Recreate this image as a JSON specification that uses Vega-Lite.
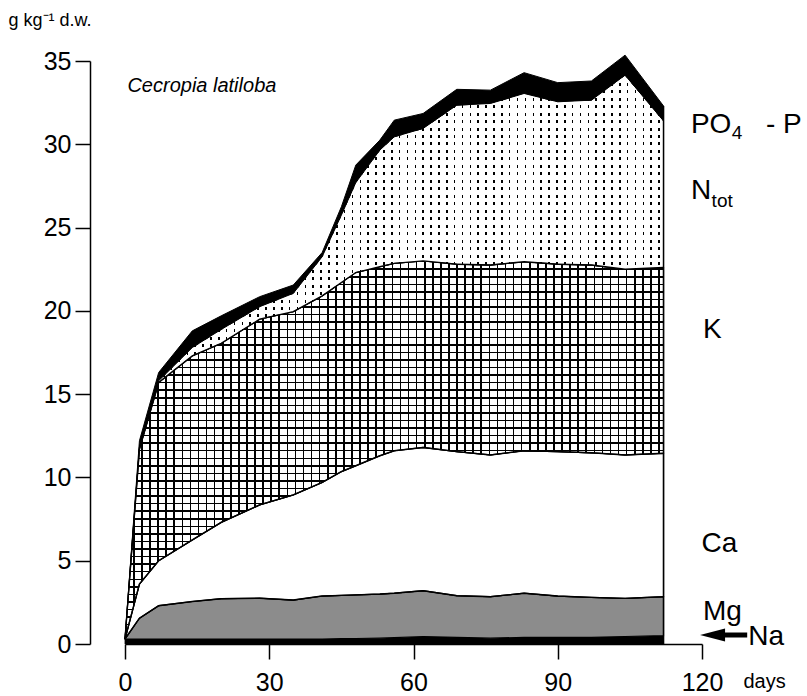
{
"$schema":"https://vega.github.io/schema/vega-lite/v6.json",
"width":577,"height":583,
"autosize":{"type":"none"},
"padding":{"left":125,"top":61,"right":105,"bottom":52},
"background":"white",
"config":{"view":{"stroke":null},
"axis":{"domainColor":"#000","tickColor":"#000","labelColor":"#000","titleColor":"#000","labelFont":"Liberation Sans","titleFont":"Liberation Sans","labelFontSize":25,"grid":false,"tickSize":15,"domainWidth":1.5,"tickWidth":1.5,"titleFontWeight":"normal","labelFlush":false,"labelOverlap":false},
"text":{"font":"Liberation Sans","color":"#000"}},
"params":[
{"name":"vs","value":{"gradient":"linear","x1":0,"y1":0,"x2":1,"y2":0,"stops":[
{"offset":0,"color":"#000"},{"offset":0.003,"color":"#000"},{"offset":0.003,"color":"#fff"},{"offset":0.015,"color":"#fff"},
{"offset":0.015,"color":"#000"},{"offset":0.018,"color":"#000"},{"offset":0.018,"color":"#fff"},{"offset":0.03,"color":"#fff"},
{"offset":0.03,"color":"#000"},{"offset":0.033,"color":"#000"},{"offset":0.033,"color":"#fff"},{"offset":0.045,"color":"#fff"},
{"offset":0.045,"color":"#000"},{"offset":0.048,"color":"#000"},{"offset":0.048,"color":"#fff"},{"offset":0.06,"color":"#fff"},
{"offset":0.06,"color":"#000"},{"offset":0.063,"color":"#000"},{"offset":0.063,"color":"#fff"},{"offset":0.075,"color":"#fff"},
{"offset":0.075,"color":"#000"},{"offset":0.078,"color":"#000"},{"offset":0.078,"color":"#fff"},{"offset":0.09,"color":"#fff"},
{"offset":0.09,"color":"#000"},{"offset":0.093,"color":"#000"},{"offset":0.093,"color":"#fff"},{"offset":0.105,"color":"#fff"},
{"offset":0.105,"color":"#000"},{"offset":0.108,"color":"#000"},{"offset":0.108,"color":"#fff"},{"offset":0.12,"color":"#fff"},
{"offset":0.12,"color":"#000"},{"offset":0.123,"color":"#000"},{"offset":0.123,"color":"#fff"},{"offset":0.135,"color":"#fff"},
{"offset":0.135,"color":"#000"},{"offset":0.138,"color":"#000"},{"offset":0.138,"color":"#fff"},{"offset":0.15,"color":"#fff"},
{"offset":0.15,"color":"#000"},{"offset":0.153,"color":"#000"},{"offset":0.153,"color":"#fff"},{"offset":0.165,"color":"#fff"},
{"offset":0.165,"color":"#000"},{"offset":0.168,"color":"#000"},{"offset":0.168,"color":"#fff"},{"offset":0.18,"color":"#fff"},
{"offset":0.18,"color":"#000"},{"offset":0.183,"color":"#000"},{"offset":0.183,"color":"#fff"},{"offset":0.195,"color":"#fff"},
{"offset":0.195,"color":"#000"},{"offset":0.198,"color":"#000"},{"offset":0.198,"color":"#fff"},{"offset":0.21,"color":"#fff"},
{"offset":0.21,"color":"#000"},{"offset":0.213,"color":"#000"},{"offset":0.213,"color":"#fff"},{"offset":0.225,"color":"#fff"},
{"offset":0.225,"color":"#000"},{"offset":0.228,"color":"#000"},{"offset":0.228,"color":"#fff"},{"offset":0.24,"color":"#fff"},
{"offset":0.24,"color":"#000"},{"offset":0.243,"color":"#000"},{"offset":0.243,"color":"#fff"},{"offset":0.255,"color":"#fff"},
{"offset":0.255,"color":"#000"},{"offset":0.258,"color":"#000"},{"offset":0.258,"color":"#fff"},{"offset":0.27,"color":"#fff"},
{"offset":0.27,"color":"#000"},{"offset":0.273,"color":"#000"},{"offset":0.273,"color":"#fff"},{"offset":0.285,"color":"#fff"},
{"offset":0.285,"color":"#000"},{"offset":0.288,"color":"#000"},{"offset":0.288,"color":"#fff"},{"offset":0.3,"color":"#fff"},
{"offset":0.3,"color":"#000"},{"offset":0.303,"color":"#000"},{"offset":0.303,"color":"#fff"},{"offset":0.315,"color":"#fff"},
{"offset":0.315,"color":"#000"},{"offset":0.318,"color":"#000"},{"offset":0.318,"color":"#fff"},{"offset":0.33,"color":"#fff"},
{"offset":0.33,"color":"#000"},{"offset":0.333,"color":"#000"},{"offset":0.333,"color":"#fff"},{"offset":0.345,"color":"#fff"},
{"offset":0.345,"color":"#000"},{"offset":0.348,"color":"#000"},{"offset":0.348,"color":"#fff"},{"offset":0.36,"color":"#fff"},
{"offset":0.36,"color":"#000"},{"offset":0.363,"color":"#000"},{"offset":0.363,"color":"#fff"},{"offset":0.375,"color":"#fff"},
{"offset":0.375,"color":"#000"},{"offset":0.378,"color":"#000"},{"offset":0.378,"color":"#fff"},{"offset":0.39,"color":"#fff"},
{"offset":0.39,"color":"#000"},{"offset":0.393,"color":"#000"},{"offset":0.393,"color":"#fff"},{"offset":0.405,"color":"#fff"},
{"offset":0.405,"color":"#000"},{"offset":0.408,"color":"#000"},{"offset":0.408,"color":"#fff"},{"offset":0.42,"color":"#fff"},
{"offset":0.42,"color":"#000"},{"offset":0.423,"color":"#000"},{"offset":0.423,"color":"#fff"},{"offset":0.435,"color":"#fff"},
{"offset":0.435,"color":"#000"},{"offset":0.438,"color":"#000"},{"offset":0.438,"color":"#fff"},{"offset":0.45,"color":"#fff"},
{"offset":0.45,"color":"#000"},{"offset":0.453,"color":"#000"},{"offset":0.453,"color":"#fff"},{"offset":0.465,"color":"#fff"},
{"offset":0.465,"color":"#000"},{"offset":0.468,"color":"#000"},{"offset":0.468,"color":"#fff"},{"offset":0.48,"color":"#fff"},
{"offset":0.48,"color":"#000"},{"offset":0.483,"color":"#000"},{"offset":0.483,"color":"#fff"},{"offset":0.495,"color":"#fff"},
{"offset":0.495,"color":"#000"},{"offset":0.498,"color":"#000"},{"offset":0.498,"color":"#fff"},{"offset":0.51,"color":"#fff"},
{"offset":0.51,"color":"#000"},{"offset":0.513,"color":"#000"},{"offset":0.513,"color":"#fff"},{"offset":0.525,"color":"#fff"},
{"offset":0.525,"color":"#000"},{"offset":0.528,"color":"#000"},{"offset":0.528,"color":"#fff"},{"offset":0.54,"color":"#fff"},
{"offset":0.54,"color":"#000"},{"offset":0.543,"color":"#000"},{"offset":0.543,"color":"#fff"},{"offset":0.555,"color":"#fff"},
{"offset":0.555,"color":"#000"},{"offset":0.558,"color":"#000"},{"offset":0.558,"color":"#fff"},{"offset":0.57,"color":"#fff"},
{"offset":0.57,"color":"#000"},{"offset":0.573,"color":"#000"},{"offset":0.573,"color":"#fff"},{"offset":0.585,"color":"#fff"},
{"offset":0.585,"color":"#000"},{"offset":0.588,"color":"#000"},{"offset":0.588,"color":"#fff"},{"offset":0.6,"color":"#fff"},
{"offset":0.6,"color":"#000"},{"offset":0.603,"color":"#000"},{"offset":0.603,"color":"#fff"},{"offset":0.615,"color":"#fff"},
{"offset":0.615,"color":"#000"},{"offset":0.618,"color":"#000"},{"offset":0.618,"color":"#fff"},{"offset":0.63,"color":"#fff"},
{"offset":0.63,"color":"#000"},{"offset":0.633,"color":"#000"},{"offset":0.633,"color":"#fff"},{"offset":0.645,"color":"#fff"},
{"offset":0.645,"color":"#000"},{"offset":0.648,"color":"#000"},{"offset":0.648,"color":"#fff"},{"offset":0.66,"color":"#fff"},
{"offset":0.66,"color":"#000"},{"offset":0.663,"color":"#000"},{"offset":0.663,"color":"#fff"},{"offset":0.675,"color":"#fff"},
{"offset":0.675,"color":"#000"},{"offset":0.678,"color":"#000"},{"offset":0.678,"color":"#fff"},{"offset":0.69,"color":"#fff"},
{"offset":0.69,"color":"#000"},{"offset":0.693,"color":"#000"},{"offset":0.693,"color":"#fff"},{"offset":0.705,"color":"#fff"},
{"offset":0.705,"color":"#000"},{"offset":0.708,"color":"#000"},{"offset":0.708,"color":"#fff"},{"offset":0.72,"color":"#fff"},
{"offset":0.72,"color":"#000"},{"offset":0.723,"color":"#000"},{"offset":0.723,"color":"#fff"},{"offset":0.735,"color":"#fff"},
{"offset":0.735,"color":"#000"},{"offset":0.738,"color":"#000"},{"offset":0.738,"color":"#fff"},{"offset":0.75,"color":"#fff"},
{"offset":0.75,"color":"#000"},{"offset":0.753,"color":"#000"},{"offset":0.753,"color":"#fff"},{"offset":0.765,"color":"#fff"},
{"offset":0.765,"color":"#000"},{"offset":0.768,"color":"#000"},{"offset":0.768,"color":"#fff"},{"offset":0.78,"color":"#fff"},
{"offset":0.78,"color":"#000"},{"offset":0.783,"color":"#000"},{"offset":0.783,"color":"#fff"},{"offset":0.795,"color":"#fff"},
{"offset":0.795,"color":"#000"},{"offset":0.798,"color":"#000"},{"offset":0.798,"color":"#fff"},{"offset":0.81,"color":"#fff"},
{"offset":0.81,"color":"#000"},{"offset":0.813,"color":"#000"},{"offset":0.813,"color":"#fff"},{"offset":0.825,"color":"#fff"},
{"offset":0.825,"color":"#000"},{"offset":0.828,"color":"#000"},{"offset":0.828,"color":"#fff"},{"offset":0.84,"color":"#fff"},
{"offset":0.84,"color":"#000"},{"offset":0.843,"color":"#000"},{"offset":0.843,"color":"#fff"},{"offset":0.855,"color":"#fff"},
{"offset":0.855,"color":"#000"},{"offset":0.858,"color":"#000"},{"offset":0.858,"color":"#fff"},{"offset":0.87,"color":"#fff"},
{"offset":0.87,"color":"#000"},{"offset":0.873,"color":"#000"},{"offset":0.873,"color":"#fff"},{"offset":0.885,"color":"#fff"},
{"offset":0.885,"color":"#000"},{"offset":0.888,"color":"#000"},{"offset":0.888,"color":"#fff"},{"offset":0.9,"color":"#fff"},
{"offset":0.9,"color":"#000"},{"offset":0.903,"color":"#000"},{"offset":0.903,"color":"#fff"},{"offset":0.915,"color":"#fff"},
{"offset":0.915,"color":"#000"},{"offset":0.918,"color":"#000"},{"offset":0.918,"color":"#fff"},{"offset":0.93,"color":"#fff"},
{"offset":0.93,"color":"#000"},{"offset":0.933,"color":"#000"},{"offset":0.933,"color":"#fff"},{"offset":0.945,"color":"#fff"},
{"offset":0.945,"color":"#000"},{"offset":0.948,"color":"#000"},{"offset":0.948,"color":"#fff"},{"offset":0.96,"color":"#fff"},
{"offset":0.96,"color":"#000"},{"offset":0.963,"color":"#000"},{"offset":0.963,"color":"#fff"},{"offset":0.975,"color":"#fff"},
{"offset":0.975,"color":"#000"},{"offset":0.978,"color":"#000"},{"offset":0.978,"color":"#fff"},{"offset":0.99,"color":"#fff"},
{"offset":0.99,"color":"#000"},{"offset":0.993,"color":"#000"},{"offset":0.993,"color":"#fff"},{"offset":1,"color":"#fff"}]}},
{"name":"hs","value":{"gradient":"linear","x1":0,"y1":0,"x2":0,"y2":1,"stops":[
{"offset":0,"color":"#000"},{"offset":0.004,"color":"#000"},{"offset":0.004,"color":"transparent"},{"offset":0.02,"color":"transparent"},
{"offset":0.02,"color":"#000"},{"offset":0.024,"color":"#000"},{"offset":0.024,"color":"transparent"},{"offset":0.04,"color":"transparent"},
{"offset":0.04,"color":"#000"},{"offset":0.044,"color":"#000"},{"offset":0.044,"color":"transparent"},{"offset":0.06,"color":"transparent"},
{"offset":0.06,"color":"#000"},{"offset":0.064,"color":"#000"},{"offset":0.064,"color":"transparent"},{"offset":0.08,"color":"transparent"},
{"offset":0.08,"color":"#000"},{"offset":0.084,"color":"#000"},{"offset":0.084,"color":"transparent"},{"offset":0.1,"color":"transparent"},
{"offset":0.1,"color":"#000"},{"offset":0.104,"color":"#000"},{"offset":0.104,"color":"transparent"},{"offset":0.12,"color":"transparent"},
{"offset":0.12,"color":"#000"},{"offset":0.124,"color":"#000"},{"offset":0.124,"color":"transparent"},{"offset":0.14,"color":"transparent"},
{"offset":0.14,"color":"#000"},{"offset":0.144,"color":"#000"},{"offset":0.144,"color":"transparent"},{"offset":0.16,"color":"transparent"},
{"offset":0.16,"color":"#000"},{"offset":0.164,"color":"#000"},{"offset":0.164,"color":"transparent"},{"offset":0.18,"color":"transparent"},
{"offset":0.18,"color":"#000"},{"offset":0.184,"color":"#000"},{"offset":0.184,"color":"transparent"},{"offset":0.2,"color":"transparent"},
{"offset":0.2,"color":"#000"},{"offset":0.204,"color":"#000"},{"offset":0.204,"color":"transparent"},{"offset":0.22,"color":"transparent"},
{"offset":0.22,"color":"#000"},{"offset":0.224,"color":"#000"},{"offset":0.224,"color":"transparent"},{"offset":0.24,"color":"transparent"},
{"offset":0.24,"color":"#000"},{"offset":0.244,"color":"#000"},{"offset":0.244,"color":"transparent"},{"offset":0.26,"color":"transparent"},
{"offset":0.26,"color":"#000"},{"offset":0.264,"color":"#000"},{"offset":0.264,"color":"transparent"},{"offset":0.28,"color":"transparent"},
{"offset":0.28,"color":"#000"},{"offset":0.284,"color":"#000"},{"offset":0.284,"color":"transparent"},{"offset":0.3,"color":"transparent"},
{"offset":0.3,"color":"#000"},{"offset":0.304,"color":"#000"},{"offset":0.304,"color":"transparent"},{"offset":0.32,"color":"transparent"},
{"offset":0.32,"color":"#000"},{"offset":0.324,"color":"#000"},{"offset":0.324,"color":"transparent"},{"offset":0.34,"color":"transparent"},
{"offset":0.34,"color":"#000"},{"offset":0.344,"color":"#000"},{"offset":0.344,"color":"transparent"},{"offset":0.36,"color":"transparent"},
{"offset":0.36,"color":"#000"},{"offset":0.364,"color":"#000"},{"offset":0.364,"color":"transparent"},{"offset":0.38,"color":"transparent"},
{"offset":0.38,"color":"#000"},{"offset":0.384,"color":"#000"},{"offset":0.384,"color":"transparent"},{"offset":0.4,"color":"transparent"},
{"offset":0.4,"color":"#000"},{"offset":0.404,"color":"#000"},{"offset":0.404,"color":"transparent"},{"offset":0.42,"color":"transparent"},
{"offset":0.42,"color":"#000"},{"offset":0.424,"color":"#000"},{"offset":0.424,"color":"transparent"},{"offset":0.44,"color":"transparent"},
{"offset":0.44,"color":"#000"},{"offset":0.444,"color":"#000"},{"offset":0.444,"color":"transparent"},{"offset":0.46,"color":"transparent"},
{"offset":0.46,"color":"#000"},{"offset":0.464,"color":"#000"},{"offset":0.464,"color":"transparent"},{"offset":0.48,"color":"transparent"},
{"offset":0.48,"color":"#000"},{"offset":0.484,"color":"#000"},{"offset":0.484,"color":"transparent"},{"offset":0.5,"color":"transparent"},
{"offset":0.5,"color":"#000"},{"offset":0.504,"color":"#000"},{"offset":0.504,"color":"transparent"},{"offset":0.52,"color":"transparent"},
{"offset":0.52,"color":"#000"},{"offset":0.524,"color":"#000"},{"offset":0.524,"color":"transparent"},{"offset":0.54,"color":"transparent"},
{"offset":0.54,"color":"#000"},{"offset":0.544,"color":"#000"},{"offset":0.544,"color":"transparent"},{"offset":0.56,"color":"transparent"},
{"offset":0.56,"color":"#000"},{"offset":0.564,"color":"#000"},{"offset":0.564,"color":"transparent"},{"offset":0.58,"color":"transparent"},
{"offset":0.58,"color":"#000"},{"offset":0.584,"color":"#000"},{"offset":0.584,"color":"transparent"},{"offset":0.6,"color":"transparent"},
{"offset":0.6,"color":"#000"},{"offset":0.604,"color":"#000"},{"offset":0.604,"color":"transparent"},{"offset":0.62,"color":"transparent"},
{"offset":0.62,"color":"#000"},{"offset":0.624,"color":"#000"},{"offset":0.624,"color":"transparent"},{"offset":0.64,"color":"transparent"},
{"offset":0.64,"color":"#000"},{"offset":0.644,"color":"#000"},{"offset":0.644,"color":"transparent"},{"offset":0.66,"color":"transparent"},
{"offset":0.66,"color":"#000"},{"offset":0.664,"color":"#000"},{"offset":0.664,"color":"transparent"},{"offset":0.68,"color":"transparent"},
{"offset":0.68,"color":"#000"},{"offset":0.684,"color":"#000"},{"offset":0.684,"color":"transparent"},{"offset":0.7,"color":"transparent"},
{"offset":0.7,"color":"#000"},{"offset":0.704,"color":"#000"},{"offset":0.704,"color":"transparent"},{"offset":0.72,"color":"transparent"},
{"offset":0.72,"color":"#000"},{"offset":0.724,"color":"#000"},{"offset":0.724,"color":"transparent"},{"offset":0.74,"color":"transparent"},
{"offset":0.74,"color":"#000"},{"offset":0.744,"color":"#000"},{"offset":0.744,"color":"transparent"},{"offset":0.76,"color":"transparent"},
{"offset":0.76,"color":"#000"},{"offset":0.764,"color":"#000"},{"offset":0.764,"color":"transparent"},{"offset":0.78,"color":"transparent"},
{"offset":0.78,"color":"#000"},{"offset":0.784,"color":"#000"},{"offset":0.784,"color":"transparent"},{"offset":0.8,"color":"transparent"},
{"offset":0.8,"color":"#000"},{"offset":0.804,"color":"#000"},{"offset":0.804,"color":"transparent"},{"offset":0.82,"color":"transparent"},
{"offset":0.82,"color":"#000"},{"offset":0.824,"color":"#000"},{"offset":0.824,"color":"transparent"},{"offset":0.84,"color":"transparent"},
{"offset":0.84,"color":"#000"},{"offset":0.844,"color":"#000"},{"offset":0.844,"color":"transparent"},{"offset":0.86,"color":"transparent"},
{"offset":0.86,"color":"#000"},{"offset":0.864,"color":"#000"},{"offset":0.864,"color":"transparent"},{"offset":0.88,"color":"transparent"},
{"offset":0.88,"color":"#000"},{"offset":0.884,"color":"#000"},{"offset":0.884,"color":"transparent"},{"offset":0.9,"color":"transparent"},
{"offset":0.9,"color":"#000"},{"offset":0.904,"color":"#000"},{"offset":0.904,"color":"transparent"},{"offset":0.92,"color":"transparent"},
{"offset":0.92,"color":"#000"},{"offset":0.924,"color":"#000"},{"offset":0.924,"color":"transparent"},{"offset":0.94,"color":"transparent"},
{"offset":0.94,"color":"#000"},{"offset":0.944,"color":"#000"},{"offset":0.944,"color":"transparent"},{"offset":0.96,"color":"transparent"},
{"offset":0.96,"color":"#000"},{"offset":0.964,"color":"#000"},{"offset":0.964,"color":"transparent"},{"offset":0.98,"color":"transparent"},
{"offset":0.98,"color":"#000"},{"offset":0.984,"color":"#000"},{"offset":0.984,"color":"transparent"},{"offset":1,"color":"transparent"}]}},
{"name":"hm","value":{"gradient":"linear","x1":0,"y1":0,"x2":0,"y2":1,"stops":[
{"offset":0,"color":"transparent"},{"offset":0.008,"color":"transparent"},{"offset":0.008,"color":"#fff"},{"offset":0.02,"color":"#fff"},
{"offset":0.02,"color":"transparent"},{"offset":0.028,"color":"transparent"},{"offset":0.028,"color":"#fff"},{"offset":0.04,"color":"#fff"},
{"offset":0.04,"color":"transparent"},{"offset":0.048,"color":"transparent"},{"offset":0.048,"color":"#fff"},{"offset":0.06,"color":"#fff"},
{"offset":0.06,"color":"transparent"},{"offset":0.068,"color":"transparent"},{"offset":0.068,"color":"#fff"},{"offset":0.08,"color":"#fff"},
{"offset":0.08,"color":"transparent"},{"offset":0.088,"color":"transparent"},{"offset":0.088,"color":"#fff"},{"offset":0.1,"color":"#fff"},
{"offset":0.1,"color":"transparent"},{"offset":0.108,"color":"transparent"},{"offset":0.108,"color":"#fff"},{"offset":0.12,"color":"#fff"},
{"offset":0.12,"color":"transparent"},{"offset":0.128,"color":"transparent"},{"offset":0.128,"color":"#fff"},{"offset":0.14,"color":"#fff"},
{"offset":0.14,"color":"transparent"},{"offset":0.148,"color":"transparent"},{"offset":0.148,"color":"#fff"},{"offset":0.16,"color":"#fff"},
{"offset":0.16,"color":"transparent"},{"offset":0.168,"color":"transparent"},{"offset":0.168,"color":"#fff"},{"offset":0.18,"color":"#fff"},
{"offset":0.18,"color":"transparent"},{"offset":0.188,"color":"transparent"},{"offset":0.188,"color":"#fff"},{"offset":0.2,"color":"#fff"},
{"offset":0.2,"color":"transparent"},{"offset":0.208,"color":"transparent"},{"offset":0.208,"color":"#fff"},{"offset":0.22,"color":"#fff"},
{"offset":0.22,"color":"transparent"},{"offset":0.228,"color":"transparent"},{"offset":0.228,"color":"#fff"},{"offset":0.24,"color":"#fff"},
{"offset":0.24,"color":"transparent"},{"offset":0.248,"color":"transparent"},{"offset":0.248,"color":"#fff"},{"offset":0.26,"color":"#fff"},
{"offset":0.26,"color":"transparent"},{"offset":0.268,"color":"transparent"},{"offset":0.268,"color":"#fff"},{"offset":0.28,"color":"#fff"},
{"offset":0.28,"color":"transparent"},{"offset":0.288,"color":"transparent"},{"offset":0.288,"color":"#fff"},{"offset":0.3,"color":"#fff"},
{"offset":0.3,"color":"transparent"},{"offset":0.308,"color":"transparent"},{"offset":0.308,"color":"#fff"},{"offset":0.32,"color":"#fff"},
{"offset":0.32,"color":"transparent"},{"offset":0.328,"color":"transparent"},{"offset":0.328,"color":"#fff"},{"offset":0.34,"color":"#fff"},
{"offset":0.34,"color":"transparent"},{"offset":0.348,"color":"transparent"},{"offset":0.348,"color":"#fff"},{"offset":0.36,"color":"#fff"},
{"offset":0.36,"color":"transparent"},{"offset":0.368,"color":"transparent"},{"offset":0.368,"color":"#fff"},{"offset":0.38,"color":"#fff"},
{"offset":0.38,"color":"transparent"},{"offset":0.388,"color":"transparent"},{"offset":0.388,"color":"#fff"},{"offset":0.4,"color":"#fff"},
{"offset":0.4,"color":"transparent"},{"offset":0.408,"color":"transparent"},{"offset":0.408,"color":"#fff"},{"offset":0.42,"color":"#fff"},
{"offset":0.42,"color":"transparent"},{"offset":0.428,"color":"transparent"},{"offset":0.428,"color":"#fff"},{"offset":0.44,"color":"#fff"},
{"offset":0.44,"color":"transparent"},{"offset":0.448,"color":"transparent"},{"offset":0.448,"color":"#fff"},{"offset":0.46,"color":"#fff"},
{"offset":0.46,"color":"transparent"},{"offset":0.468,"color":"transparent"},{"offset":0.468,"color":"#fff"},{"offset":0.48,"color":"#fff"},
{"offset":0.48,"color":"transparent"},{"offset":0.488,"color":"transparent"},{"offset":0.488,"color":"#fff"},{"offset":0.5,"color":"#fff"},
{"offset":0.5,"color":"transparent"},{"offset":0.508,"color":"transparent"},{"offset":0.508,"color":"#fff"},{"offset":0.52,"color":"#fff"},
{"offset":0.52,"color":"transparent"},{"offset":0.528,"color":"transparent"},{"offset":0.528,"color":"#fff"},{"offset":0.54,"color":"#fff"},
{"offset":0.54,"color":"transparent"},{"offset":0.548,"color":"transparent"},{"offset":0.548,"color":"#fff"},{"offset":0.56,"color":"#fff"},
{"offset":0.56,"color":"transparent"},{"offset":0.568,"color":"transparent"},{"offset":0.568,"color":"#fff"},{"offset":0.58,"color":"#fff"},
{"offset":0.58,"color":"transparent"},{"offset":0.588,"color":"transparent"},{"offset":0.588,"color":"#fff"},{"offset":0.6,"color":"#fff"},
{"offset":0.6,"color":"transparent"},{"offset":0.608,"color":"transparent"},{"offset":0.608,"color":"#fff"},{"offset":0.62,"color":"#fff"},
{"offset":0.62,"color":"transparent"},{"offset":0.628,"color":"transparent"},{"offset":0.628,"color":"#fff"},{"offset":0.64,"color":"#fff"},
{"offset":0.64,"color":"transparent"},{"offset":0.648,"color":"transparent"},{"offset":0.648,"color":"#fff"},{"offset":0.66,"color":"#fff"},
{"offset":0.66,"color":"transparent"},{"offset":0.668,"color":"transparent"},{"offset":0.668,"color":"#fff"},{"offset":0.68,"color":"#fff"},
{"offset":0.68,"color":"transparent"},{"offset":0.688,"color":"transparent"},{"offset":0.688,"color":"#fff"},{"offset":0.7,"color":"#fff"},
{"offset":0.7,"color":"transparent"},{"offset":0.708,"color":"transparent"},{"offset":0.708,"color":"#fff"},{"offset":0.72,"color":"#fff"},
{"offset":0.72,"color":"transparent"},{"offset":0.728,"color":"transparent"},{"offset":0.728,"color":"#fff"},{"offset":0.74,"color":"#fff"},
{"offset":0.74,"color":"transparent"},{"offset":0.748,"color":"transparent"},{"offset":0.748,"color":"#fff"},{"offset":0.76,"color":"#fff"},
{"offset":0.76,"color":"transparent"},{"offset":0.768,"color":"transparent"},{"offset":0.768,"color":"#fff"},{"offset":0.78,"color":"#fff"},
{"offset":0.78,"color":"transparent"},{"offset":0.788,"color":"transparent"},{"offset":0.788,"color":"#fff"},{"offset":0.8,"color":"#fff"},
{"offset":0.8,"color":"transparent"},{"offset":0.808,"color":"transparent"},{"offset":0.808,"color":"#fff"},{"offset":0.82,"color":"#fff"},
{"offset":0.82,"color":"transparent"},{"offset":0.828,"color":"transparent"},{"offset":0.828,"color":"#fff"},{"offset":0.84,"color":"#fff"},
{"offset":0.84,"color":"transparent"},{"offset":0.848,"color":"transparent"},{"offset":0.848,"color":"#fff"},{"offset":0.86,"color":"#fff"},
{"offset":0.86,"color":"transparent"},{"offset":0.868,"color":"transparent"},{"offset":0.868,"color":"#fff"},{"offset":0.88,"color":"#fff"},
{"offset":0.88,"color":"transparent"},{"offset":0.888,"color":"transparent"},{"offset":0.888,"color":"#fff"},{"offset":0.9,"color":"#fff"},
{"offset":0.9,"color":"transparent"},{"offset":0.908,"color":"transparent"},{"offset":0.908,"color":"#fff"},{"offset":0.92,"color":"#fff"},
{"offset":0.92,"color":"transparent"},{"offset":0.928,"color":"transparent"},{"offset":0.928,"color":"#fff"},{"offset":0.94,"color":"#fff"},
{"offset":0.94,"color":"transparent"},{"offset":0.948,"color":"transparent"},{"offset":0.948,"color":"#fff"},{"offset":0.96,"color":"#fff"},
{"offset":0.96,"color":"transparent"},{"offset":0.968,"color":"transparent"},{"offset":0.968,"color":"#fff"},{"offset":0.98,"color":"#fff"},
{"offset":0.98,"color":"transparent"},{"offset":0.988,"color":"transparent"},{"offset":0.988,"color":"#fff"},{"offset":1,"color":"#fff"}]}}
],
"datasets":{
"el":[
{"day":0,"Na":0.3,"Mg":0,"Ca":0,"K":0,"N":0,"P":0},
{"day":3,"Na":0.3,"Mg":1.25,"Ca":2.05,"K":8.1,"N":0.1,"P":0.4},
{"day":7,"Na":0.3,"Mg":2.0,"Ca":2.7,"K":10.7,"N":0.1,"P":0.5},
{"day":14,"Na":0.3,"Mg":2.25,"Ca":3.7,"K":11.05,"N":0.5,"P":1.0},
{"day":20,"Na":0.3,"Mg":2.42,"Ca":4.58,"K":10.75,"N":0.83,"P":0.82},
{"day":28,"Na":0.3,"Mg":2.45,"Ca":5.6,"K":11.15,"N":0.75,"P":0.6},
{"day":35,"Na":0.3,"Mg":2.34,"Ca":6.31,"K":11.0,"N":1.1,"P":0.5},
{"day":41,"Na":0.3,"Mg":2.58,"Ca":6.82,"K":11.2,"N":2.35,"P":0.25},
{"day":45,"Na":0.32,"Mg":2.6,"Ca":7.43,"K":11.35,"N":4.05,"P":0.5},
{"day":48,"Na":0.33,"Mg":2.62,"Ca":7.75,"K":11.6,"N":5.4,"P":1.05},
{"day":53,"Na":0.35,"Mg":2.65,"Ca":8.3,"K":11.35,"N":7.0,"P":0.6},
{"day":56,"Na":0.38,"Mg":2.67,"Ca":8.55,"K":11.25,"N":7.6,"P":1.0},
{"day":62,"Na":0.45,"Mg":2.75,"Ca":8.6,"K":11.2,"N":7.95,"P":0.9},
{"day":69,"Na":0.4,"Mg":2.5,"Ca":8.65,"K":11.25,"N":9.55,"P":0.95},
{"day":76,"Na":0.35,"Mg":2.49,"Ca":8.51,"K":11.4,"N":9.7,"P":0.8},
{"day":83,"Na":0.4,"Mg":2.65,"Ca":8.55,"K":11.35,"N":10.1,"P":1.25},
{"day":90,"Na":0.4,"Mg":2.48,"Ca":8.67,"K":11.25,"N":9.75,"P":1.15},
{"day":97,"Na":0.4,"Mg":2.4,"Ca":8.68,"K":11.27,"N":9.9,"P":1.15},
{"day":104,"Na":0.45,"Mg":2.29,"Ca":8.61,"K":11.15,"N":11.65,"P":1.2},
{"day":112,"Na":0.5,"Mg":2.34,"Ca":8.61,"K":11.15,"N":8.8,"P":0.9}
]},
"layer":[
{"data":{"name":"el"},
"transform":[
{"fold":["Na","Mg","Ca","K","N","P"],"as":["element","value"]},
{"calculate":"indexof(['Na','Mg','Ca','K','N','P'], datum.element)","as":"rank"},
{"stack":"value","groupby":["day"],"sort":[{"field":"rank","order":"ascending"}],"as":["lo","hi"]}
],
"layer":[
{"transform":[{"filter":"datum.element == 'Na'"}],
"mark":{"type":"area","fill":"#000","stroke":"#000","strokeWidth":0.8},
"encoding":{
"x":{"field":"day","type":"quantitative","scale":{"domain":[0,120],"nice":false,"zero":false},"axis":{"values":[0,30,60,90,120],"labelPadding":11,"title":"days","titleX":618,"titleY":43.6,"titleAlign":"left","titleBaseline":"alphabetic","titleFontSize":20,"titleFont":"Liberation Sans"}},
"y":{"field":"hi","type":"quantitative","scale":{"domain":[0,35],"nice":false,"zero":false},"axis":{"values":[0,5,10,15,20,25,30,35],"offset":35,"labelPadding":4,"title":"g kg⁻¹ d.w.","titleAngle":0,"titleX":-82,"titleY":-36,"titleAlign":"left","titleBaseline":"alphabetic","titleFontSize":18}},
"y2":{"field":"lo"}}},
{"transform":[{"filter":"datum.element == 'Mg'"}],
"mark":{"type":"area","fill":"#8c8c8c","stroke":"#000","strokeWidth":1.2},
"encoding":{"x":{"field":"day","type":"quantitative"},"y":{"field":"hi","type":"quantitative"},"y2":{"field":"lo"}}},
{"transform":[{"filter":"datum.element == 'Ca'"}],
"mark":{"type":"area","fill":"#fff","stroke":"#000","strokeWidth":1.2},
"encoding":{"x":{"field":"day","type":"quantitative"},"y":{"field":"hi","type":"quantitative"},"y2":{"field":"lo"}}},
{"transform":[{"filter":"datum.element == 'K'"}],
"mark":{"type":"area","fill":{"expr":"vs"},"stroke":"#000","strokeWidth":1.2},
"encoding":{"x":{"field":"day","type":"quantitative"},"y":{"field":"hi","type":"quantitative"},"y2":{"field":"lo"}}},
{"transform":[{"filter":"datum.element == 'K'"}],
"mark":{"type":"area","fill":{"expr":"hs"}},
"encoding":{"x":{"field":"day","type":"quantitative"},"y":{"field":"hi","type":"quantitative"},"y2":{"field":"lo"}}},
{"transform":[{"filter":"datum.element == 'N' && datum.day >= 3"}],
"mark":{"type":"area","fill":{"expr":"vs"},"stroke":"#000","strokeWidth":1},
"encoding":{"x":{"field":"day","type":"quantitative"},"y":{"field":"hi","type":"quantitative"},"y2":{"field":"lo"}}},
{"transform":[{"filter":"datum.element == 'N' && datum.day >= 3"}],
"mark":{"type":"area","fill":{"expr":"hm"}},
"encoding":{"x":{"field":"day","type":"quantitative"},"y":{"field":"hi","type":"quantitative"},"y2":{"field":"lo"}}},
{"transform":[{"filter":"datum.element == 'P'"}],
"mark":{"type":"area","fill":"#000","stroke":"#000","strokeWidth":1},
"encoding":{"x":{"field":"day","type":"quantitative"},"y":{"field":"hi","type":"quantitative"},"y2":{"field":"lo"}}},
{"transform":[{"filter":"datum.element == 'Mg' || datum.element == 'Ca' || datum.element == 'K'"}],
"mark":{"type":"line","stroke":"#000","strokeWidth":1.4},
"encoding":{"x":{"field":"day","type":"quantitative"},"y":{"field":"hi","type":"quantitative"},"detail":{"field":"element"}}},
{"transform":[{"filter":"datum.element == 'P' && datum.day == 112"}],
"mark":{"type":"rule","stroke":"#000","strokeWidth":1.5},
"encoding":{"x":{"field":"day","type":"quantitative"},"y":{"field":"hi","type":"quantitative"},"y2":{"datum":0}}}
]},
{"data":{"values":[
{"t":"PO","d":117.7,"v":30.68},
{"t":"- P","d":133.3,"v":30.68},
{"t":"N","d":117.7,"v":26.72},
{"t":"K","d":120.2,"v":18.37},
{"t":"Ca","d":119.9,"v":5.52},
{"t":"Mg","d":120.2,"v":1.44},
{"t":"Na","d":129.6,"v":-0.06}]},
"mark":{"type":"text","align":"left","baseline":"alphabetic","fontSize":28,"font":"Liberation Sans"},
"encoding":{"x":{"field":"d","type":"quantitative"},"y":{"field":"v","type":"quantitative"},"text":{"field":"t"}}},
{"data":{"values":[
{"t":"4","d":126.2,"v":30.32},
{"t":"tot","d":122.0,"v":26.25}]},
"mark":{"type":"text","align":"left","baseline":"alphabetic","fontSize":19,"font":"Liberation Sans"},
"encoding":{"x":{"field":"d","type":"quantitative"},"y":{"field":"v","type":"quantitative"},"text":{"field":"t"}}},
{"data":{"values":[{"t":"Cecropia latiloba","d":0.5,"v":33.14}]},
"mark":{"type":"text","align":"left","baseline":"alphabetic","fontSize":20,"fontStyle":"italic","font":"Liberation Sans"},
"encoding":{"x":{"field":"d","type":"quantitative"},"y":{"field":"v","type":"quantitative"},"text":{"field":"t"}}},
{"data":{"values":[{"d1":123.8,"d2":129.4,"v":0.54}]},
"mark":{"type":"rule","stroke":"#000","strokeWidth":5},
"encoding":{"x":{"field":"d1","type":"quantitative"},"x2":{"field":"d2"},"y":{"field":"v","type":"quantitative"}}},
{"data":{"values":[{"d":122.2,"v":0.54}]},
"mark":{"type":"point","shape":"M-1,0L1,-0.52L1,0.52Z","size":625,"filled":true,"fill":"#000","stroke":null,"opacity":1},
"encoding":{"x":{"field":"d","type":"quantitative"},"y":{"field":"v","type":"quantitative"}}}
]
}
